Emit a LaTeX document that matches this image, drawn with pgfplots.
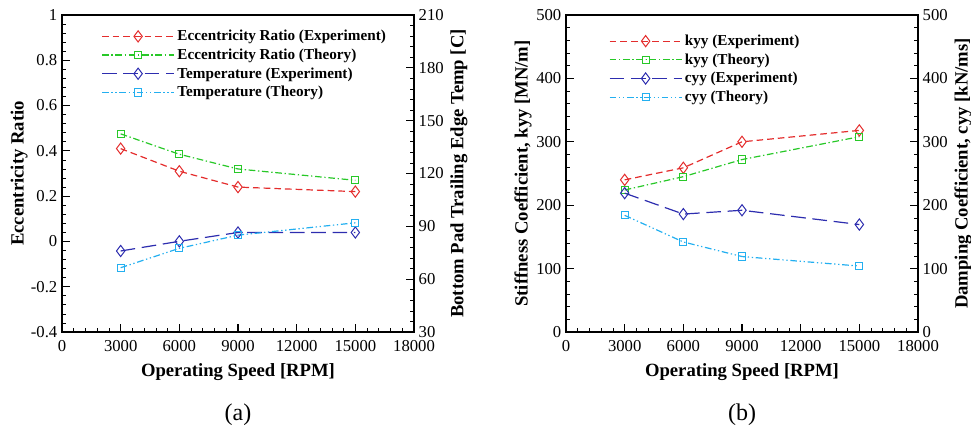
\documentclass[border=0pt]{standalone}
\usepackage{fontspec}
\setmainfont{Liberation Serif}
\usepackage{pgfplots}
\pgfplotsset{compat=1.18}

\definecolor{cred}{RGB}{228,45,45}
\definecolor{cgreen}{RGB}{40,200,40}
\definecolor{cblue}{RGB}{45,45,175}
\definecolor{ccyan}{RGB}{35,175,240}

\pgfplotsset{
  common/.style={
    scale only axis, width=264pt, height=237.75pt, anchor=south west,
    xmin=0, xmax=18000, xtick={0,3000,...,18000}, minor tick num=4,
    scaled x ticks=false, scaled y ticks=false,
    tick align=inside, major tick length=6pt, minor tick length=3pt,
    tick style={black, line width=0.8pt}, minor tick style={line width=0.5pt},
    axis line style={line width=1pt},
    /pgf/number format/1000 sep={}, /pgf/number format/assume math mode=true,
    tick label style={font=\fontsize{12.5}{14}\selectfont},
    xticklabel style={yshift=-3pt},
    label style={font=\bfseries\fontsize{14}{16}\selectfont},
  },
  leftax/.style={common, xtick pos=bottom, ytick pos=left,
    xlabel={Operating Speed [RPM]},
    xlabel style={at={(axis description cs:0.5,-0.126)}, anchor=center},
    ylabel style={at={(axis description cs:-0.122,0.5)}, anchor=center, rotate=0}},
  rightax/.style={common, axis x line=none, axis y line*=right, ytick pos=right,
    ylabel style={at={(axis description cs:1.128,0.5)}, anchor=center},
    legend cell align=left,
    legend style={draw=none, fill=none, font=\bfseries\fontsize{11.4}{13}\selectfont,
      row sep=0.6pt, /tikz/every even column/.append style={column sep=5pt}},
    legend image code/.code={\draw[mark repeat=2,mark phase=2]
      plot coordinates {(0cm,0cm)(0.95cm,0cm)(1.9cm,0cm)};}},
  sexp1/.style={cred, line width=0.9pt, dash pattern=on 5pt off 3pt,
    mark=diamond, mark size=4.2pt, mark options={solid, line width=0.75pt}},
  sth1/.style={cgreen, line width=0.9pt, dash pattern=on 5pt off 2pt on 1pt off 2pt,
    mark=square, mark size=2.7pt, mark options={solid, line width=0.75pt}},
  sexp2/.style={cblue, line width=0.9pt, dash pattern=on 11pt off 5pt,
    mark=diamond, mark size=4.2pt, mark options={solid, line width=0.75pt}},
  sth2/.style={ccyan, line width=0.9pt, dash pattern=on 5pt off 2pt on 1pt off 2pt on 1pt off 2pt,
    mark=square, mark size=2.7pt, mark options={solid, line width=0.75pt}},
}

\begin{document}
\begin{tikzpicture}
\useasboundingbox (0,0) rectangle (728.25pt,324.75pt);

% ---- (a)
\begin{axis}[leftax, at={(46.5pt,75.75pt)},
  ymin=-0.4, ymax=1, ytick={-0.4,-0.2,0,0.2,0.4,0.6,0.8,1},
  ylabel={Eccentricity Ratio}]
\addplot[sexp1] coordinates {(3000,0.41) (6000,0.31) (9000,0.24) (15000,0.22)};
\addplot[sth1] coordinates {(3000,0.475) (6000,0.385) (9000,0.32) (15000,0.27)};
\end{axis}
\begin{axis}[rightax, at={(46.5pt,75.75pt)},
  ymin=30, ymax=210, ytick={30,60,...,210},
  ylabel={Bottom Pad Trailing Edge Temp [C]},
  legend style={at={(0.1,0.97)}, anchor=north west}]
\addlegendimage{sexp1}
\addlegendentry{Eccentricity Ratio (Experiment)}
\addlegendimage{sth1}
\addlegendentry{Eccentricity Ratio (Theory)}
\addplot[sexp2] coordinates {(3000,76) (6000,81.5) (9000,86.5) (15000,86.5)};
\addlegendentry{Temperature (Experiment)}
\addplot[sth2] coordinates {(3000,66.5) (6000,77.5) (9000,85) (15000,92)};
\addlegendentry{Temperature (Theory)}
\end{axis}

% ---- (b)
\begin{axis}[leftax, at={(424.5pt,75.75pt)},
  ymin=0, ymax=500, ytick={0,100,...,500},
  ylabel={Stiffness Coefficient, kyy [MN/m]}]
\addplot[sexp1] coordinates {(3000,240) (6000,259) (9000,300) (15000,318)};
\addplot[sth1] coordinates {(3000,224) (6000,245) (9000,272) (15000,308)};
\end{axis}
\begin{axis}[rightax, at={(424.5pt,75.75pt)},
  ymin=0, ymax=500, ytick={0,100,...,500},
  ylabel={Damping Coefficient, cyy [kN/ms]},
  legend style={at={(0.11,0.955)}, anchor=north west}]
\addlegendimage{sexp1}
\addlegendentry{kyy (Experiment)}
\addlegendimage{sth1}
\addlegendentry{kyy (Theory)}
\addplot[sexp2] coordinates {(3000,219) (6000,186) (9000,192) (15000,169.5)};
\addlegendentry{cyy (Experiment)}
\addplot[sth2] coordinates {(3000,184) (6000,142) (9000,119) (15000,104)};
\addlegendentry{cyy (Theory)}
\end{axis}

\node[font=\fontsize{18}{20}\selectfont] at (178.5pt,13.5pt) {(a)};
\node[font=\fontsize{18}{20}\selectfont] at (556.5pt,13.5pt) {(b)};
\end{tikzpicture}
\end{document}
